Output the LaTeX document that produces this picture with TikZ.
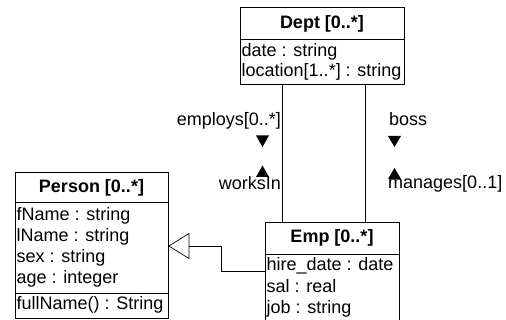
\documentclass[tikz,border=0pt]{standalone}
\usepackage{fontspec}
\setmainfont{Liberation Sans}
\begin{document}
\begin{tikzpicture}[x=1pt,y=-1pt,
  every node/.style={font=\fontsize{18}{20}\selectfont},
  box/.style={draw,line width=0.9pt,minimum width=#1,anchor=north west,inner sep=0pt},
  boxline/.style={line width=0.9pt},
  title/.style={anchor=base,inner sep=0pt,font=\fontsize{18}{20}\selectfont\bfseries},
  attr/.style={anchor=base west,inner sep=0pt},
  lbl/.style={inner sep=0pt},
  conn/.style={line width=0.7pt},
  dirtri/.style={fill=black,draw=none}]
\useasboundingbox (0,0) rectangle (506,320);
\clip (0,0) rectangle (506,320);
\fill[white] (0,0) rectangle (506,320);
% Dept
\node[box=164pt,minimum height=77pt] (dept) at (240,7) {};
\draw[boxline] (240,39) -- (404,39);
\node[title] (deptT) at (322,29) {Dept [0..*]};
\node[attr] (d1) at (241.5,57) {date : string};
\node[attr] (d2) at (241.5,76.5) {location[1..*] : string};
% Emp
\node[box=134pt,minimum height=110pt] (emp) at (265,222) {};
\draw[boxline] (265,254) -- (399,254);
\node[title] (empT) at (332,243) {Emp [0..*]};
\node[attr] (e1) at (266.5,271) {hire\_date : date};
\node[attr] (e2) at (266.5,292.5) {sal : real};
\node[attr] (e3) at (266.5,313) {job : string};
% Person
\node[box=153pt,minimum height=146pt] (person) at (15,172) {};
\draw[boxline] (15,202) -- (168,202);
\draw[boxline] (15,293) -- (168,293);
\node[title] (personT) at (91.5,193) {Person [0..*]};
\node[attr] (p1) at (16.5,221) {fName : string};
\node[attr] (p2) at (16.5,242) {lName : string};
\node[attr] (p3) at (16.5,263) {sex : string};
\node[attr] (p4) at (16.5,284) {age : integer};
\node[attr] (p5) at (16.5,309) {fullName() : String};
% associations
\draw[conn] (282,0 |- dept.south) -- (282,0 |- emp.north);
\draw[conn] (365,0 |- dept.south) -- (365,0 |- emp.north);
% labels
\node[lbl,anchor=base east] (l1) at (281,125.5) {employs[0..*]};
\node[lbl,anchor=base east] (l2) at (281,190) {worksIn};
\node[lbl,anchor=base west] (l3) at (389,125.5) {boss};
\node[lbl,anchor=base west] (l4) at (388,189) {manages[0..1]};
% direction triangles
\fill[dirtri] (256,135.5) -- (269,135.5) -- (262.5,147) -- cycle;
\fill[dirtri] (256,177) -- (269,177) -- (262.5,165.5) -- cycle;
\fill[dirtri] (388,136) -- (401,136) -- (394.5,147) -- cycle;
\fill[dirtri] (388,179) -- (401,179) -- (394.5,168) -- cycle;
% generalization
\coordinate (tip) at (person.east |- 0,246);
\draw[conn,fill=white] (tip) -- (189,233.5) -- (189,258.5) -- cycle;
\draw[conn] (189,246) -- (221,246) -- (221,271) -- (emp.west |- 0,271);
\end{tikzpicture}
\end{document}
